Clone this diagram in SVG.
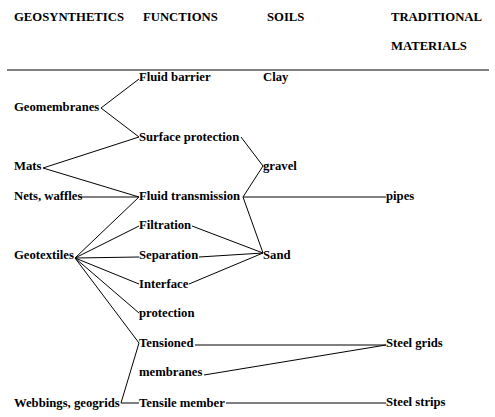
<svg xmlns="http://www.w3.org/2000/svg" width="495" height="417" viewBox="0 0 495 417">
<style>
text{font-family:'Liberation Serif','Times New Roman',serif;font-weight:700;font-size:12.7px;fill:#000}
.c line{stroke:#000;stroke-width:1}
</style>
<rect width="495" height="417" fill="#fff"/>
<g id="header">
<text x="14" y="21">GEOSYNTHETICS</text>
<text x="143" y="21">FUNCTIONS</text>
<text x="267" y="21">SOILS</text>
<text x="391" y="21">TRADITIONAL</text>
<text x="391" y="50">MATERIALS</text>
<line x1="7" y1="70" x2="489" y2="70" stroke="#000" stroke-width="1"/>
</g>
<g class="c" id="connectors">
<line x1="101" y1="108" x2="139" y2="79"/>
<line x1="101" y1="108" x2="139" y2="137"/>
<line x1="43" y1="168" x2="139" y2="137"/>
<line x1="43" y1="168" x2="139" y2="197"/>
<line x1="81" y1="197" x2="139" y2="197"/>
<line x1="241" y1="137" x2="263" y2="166"/>
<line x1="263" y1="166" x2="243" y2="197"/>
<line x1="243" y1="197" x2="386" y2="197"/>
<line x1="243" y1="197" x2="263" y2="253"/>
<line x1="75" y1="258" x2="139" y2="197"/>
<line x1="75" y1="258" x2="139" y2="226"/>
<line x1="75" y1="258" x2="139" y2="257"/>
<line x1="75" y1="258" x2="139" y2="284"/>
<line x1="75" y1="258" x2="139" y2="313"/>
<line x1="75" y1="258" x2="139" y2="343"/>
<line x1="192" y1="226" x2="263" y2="253"/>
<line x1="199" y1="257" x2="263" y2="253"/>
<line x1="189" y1="284" x2="263" y2="253"/>
<line x1="195" y1="345" x2="386" y2="345"/>
<line x1="204" y1="375" x2="386" y2="345"/>
<line x1="121" y1="403" x2="139" y2="343"/>
<line x1="121" y1="403" x2="139" y2="403"/>
<line x1="226" y1="403" x2="386" y2="403"/>
</g>
<g id="geomembranes"><text x="14" y="111">Geomembranes</text></g>
<g id="mats"><text x="14" y="170">Mats</text></g>
<g id="nets"><text x="14" y="200">Nets, waffles</text></g>
<g id="geotextiles"><text x="14" y="259">Geotextiles</text></g>
<g id="webbings"><text x="14" y="407">Webbings, geogrids</text></g>
<g id="fluid-barrier"><text x="139" y="81">Fluid barrier</text></g>
<g id="surface-protection"><text x="139" y="141">Surface protection</text></g>
<g id="fluid-transmission"><text x="139" y="200">Fluid transmission</text></g>
<g id="filtration"><text x="139" y="229">Filtration</text></g>
<g id="separation"><text x="139" y="259">Separation</text></g>
<g id="interface"><text x="139" y="288">Interface</text></g>
<g id="protection"><text x="139" y="317">protection</text></g>
<g id="tensioned"><text x="139" y="347">Tensioned</text></g>
<g id="membranes"><text x="139" y="376">membranes</text></g>
<g id="tensile-member"><text x="139" y="407">Tensile member</text></g>
<g id="clay"><text x="263" y="81">Clay</text></g>
<g id="gravel"><text x="263" y="170">gravel</text></g>
<g id="sand"><text x="263" y="259">Sand</text></g>
<g id="pipes"><text x="386" y="200">pipes</text></g>
<g id="steel-grids"><text x="386" y="347">Steel grids</text></g>
<g id="steel-strips"><text x="386" y="406">Steel strips</text></g>
</svg>
